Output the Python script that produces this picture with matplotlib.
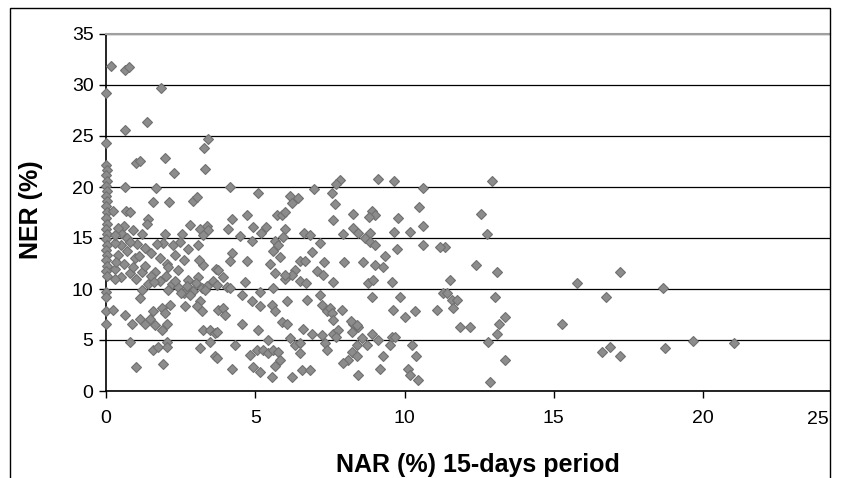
#NER versus NAR scatter (15-days period)
import matplotlib.pyplot as plt
from matplotlib.patches import Rectangle

# NAR (%) values, 15-days period
nar = [0.0, 0.0, 0.0, 0.05, 0.0, 0.05, 0.0, 0.05, 0.0, 0.05, 0.0, 0.05, 0.0, 0.05,
       0.0, 0.05, 0.0, 0.05, 0.0, 0.05, 0.0, 0.05, 0.0, 0.05, 0.0, 0.0, 0.0, 0.0,
       0.17, 0.64, 0.77, 1.83, 0.64, 1.36, 3.43, 3.28, 1.0, 1.14, 1.98, 2.28, 3.32,
       0.64, 1.68, 1.59, 2.12, 2.93, 3.06, 0.67, 0.8, 0.22, 1.42, 1.36, 2.81, 3.15,
       3.37, 3.43, 1.98, 2.54, 3.26, 1.03, 1.92, 2.25, 2.48, 2.76, 3.09, 0.69, 0.97,
       2.03, 2.09, 2.42, 1.64, 3.26, 3.7, 2.76, 3.09,
       0.5, 0.6, 0.5, 0.7, 0.3, 0.4, 0.3, 0.6, 0.5, 0.8, 0.9, 1.0, 1.2, 1.3, 1.5,
       1.4, 1.8, 2.0, 2.2, 2.4, 2.6, 2.7, 2.9, 3.0, 3.2, 3.4, 3.6, 1.1, 1.3, 1.5,
       1.7, 1.2, 0.9, 0.4, 0.8, 1.8, 2.3, 2.6, 3.1, 0.3, 0.3, 0.35,
       1.19, 1.14, 2.09, 0.25, 0.64, 0.86, 1.14, 1.31, 1.47, 1.59, 1.64, 1.87, 1.98,
       2.14, 1.87, 2.03, 2.65, 3.15, 3.04, 3.2, 0.8, 1.59, 1.75, 2.03, 2.03, 1.0,
       1.9, 3.26, 3.48, 3.65, 3.48, 3.15, 3.65, 2.5, 2.8, 3.3, 3.75, 1.6, 2.3,
       3.71, 4.04, 4.15, 4.55, 4.66, 5.16, 5.6, 6.0, 6.5, 6.7, 4.88, 5.16, 5.55,
       5.66, 6.05, 6.72, 7.17, 7.22, 7.39, 7.5, 3.93, 3.99, 4.55, 3.71, 5.1, 5.89,
       6.05, 6.61, 6.89, 7.22, 7.61, 5.44, 6.16, 6.33, 6.5, 7.33, 7.39, 4.32, 4.82,
       3.71, 5.05, 5.27, 5.44, 5.6, 5.77, 5.83, 5.66, 6.5, 4.21, 4.93, 5.16, 5.55,
       6.22, 6.55, 6.83,
       7.61, 8.79, 8.96, 9.57, 8.9, 9.85, 11.3, 7.9, 9.62, 10.0, 10.35, 11.08, 7.56,
       7.61, 8.29, 8.23, 8.45, 7.78, 7.72, 8.57, 8.4, 8.74, 8.9, 9.12, 9.57, 9.68,
       9.51, 8.23, 8.12, 8.4, 7.95, 8.45, 9.29, 9.18, 10.24, 10.4, 10.13, 10.18,
       10.46, 8.2, 8.4,
       11.52, 11.41, 11.58, 11.75, 11.64, 13.03, 13.37, 13.15, 11.86, 12.19, 13.09,
       12.81, 13.37, 12.86,
       15.27, 15.79, 17.22, 16.75, 18.65, 16.6, 16.9, 17.22, 18.73, 19.67, 21.04,
       12.94, 12.56, 12.75, 11.36, 12.39, 13.11,
       7.84, 7.7, 9.12, 9.65, 10.61, 7.56, 7.67, 8.29, 8.9, 9.01, 8.82, 10.5, 9.79,
       7.61, 10.61, 8.26, 8.45, 8.68, 8.84, 7.93, 9.65, 10.18, 8.84, 9.01, 9.74,
       10.61, 11.19, 9.35, 7.97, 8.62, 9.01, 9.29,
       4.15, 5.1, 6.98, 6.16, 6.44, 6.24, 4.21, 4.1, 4.71, 5.72, 5.89, 6.0, 4.93,
       5.35, 6.0, 6.64, 6.83, 7.17, 4.88, 5.66, 5.94, 5.77, 5.6, 4.21, 4.15, 4.71,
       5.83, 5.49, 6.5, 6.67, 6.33, 6.22, 5.66, 7.06, 7.28, 3.76, 3.93, 6.0,
       6.9, 7.3, 5.2, 4.5]

# NER (%) values
ner = [29.2, 24.3, 22.2, 21.7, 21.2, 20.6, 20.1, 19.6, 19.1, 18.6, 18.1, 17.5, 17.0, 16.4,
       15.9, 15.4, 14.9, 14.3, 13.8, 13.3, 12.8, 12.3, 11.8, 11.3, 9.7, 9.2, 7.8, 6.6,
       31.9, 31.5, 31.8, 29.7, 25.6, 26.4, 24.7, 23.8, 22.4, 22.5, 22.8, 21.4, 21.8,
       20.0, 19.9, 18.5, 18.5, 18.6, 19.0, 17.6, 17.5, 17.6, 16.9, 16.4, 16.3, 15.9,
       16.2, 15.8, 15.4, 15.4, 15.3, 14.4, 14.5, 14.3, 14.6, 13.9, 14.3, 13.7, 13.0,
       12.5, 12.2, 11.9, 11.7, 12.4, 12.0, 10.9, 11.2,
       15.5, 16.2, 14.3, 15.0, 14.5, 13.3, 12.0, 12.5, 11.2, 11.6, 12.2, 11.0, 11.7, 12.3, 11.3,
       10.5, 10.8, 11.3, 10.5, 10.2, 9.6, 10.3, 9.8, 10.6, 10.1, 10.3, 10.8, 13.2, 14.0, 13.5,
       14.4, 15.4, 15.8, 16.0, 14.6, 13.0, 13.3, 12.8, 12.8, 11.0, 15.3, 12.6,
       9.9, 9.1, 9.9, 7.9, 7.5, 6.6, 7.1, 6.6, 7.1, 7.8, 6.5, 8.1, 7.6,
       8.4, 6.0, 6.6, 8.3, 8.8, 8.3, 7.8, 4.8, 4.0, 4.3, 4.8, 4.3, 2.4,
       2.6, 6.0, 6.0, 5.7, 4.8, 4.2, 3.4, 9.6, 9.4, 9.9, 7.9, 10.7, 10.8,
       10.4, 10.2, 10.1, 9.4, 10.7, 9.7, 10.1, 11.0, 10.8, 10.6, 8.8, 8.3, 8.4,
       7.8, 8.8, 8.9, 9.4, 8.4, 7.8, 8.1, 8.1, 7.5, 6.6, 5.8, 6.0, 6.8,
       6.6, 6.1, 5.6, 5.5, 5.6, 5.0, 5.2, 4.5, 4.7, 4.7, 4.0, 4.5, 3.5,
       3.2, 4.0, 4.0, 3.7, 4.0, 3.85, 3.0, 2.5, 3.7, 2.2, 2.4, 1.9, 1.4,
       1.4, 2.1, 2.1,
       10.7, 10.6, 10.9, 10.7, 9.2, 9.2, 9.6, 7.9, 7.9, 7.3, 7.8, 7.9, 7.6,
       7.0, 6.6, 5.8, 6.3, 6.0, 5.3, 5.2, 4.5, 4.5, 5.6, 5.0, 5.3, 5.3,
       4.5, 3.85, 3.0, 3.4, 2.7, 1.6, 3.4, 2.2, 4.5, 3.4, 2.2, 1.6,
       1.1, 6.9, 6.5,
       10.9, 9.6, 8.9, 8.9, 8.1, 9.2, 7.3, 6.6, 6.3, 6.3, 5.6,
       4.8, 3.0, 0.9,
       6.6, 10.6, 11.7, 9.2, 10.1, 3.85, 4.3, 3.46, 4.2, 4.9, 4.7,
       20.6, 17.4, 15.4, 14.1, 12.4, 11.7,
       20.7, 20.3, 20.8, 20.6, 19.9, 19.4, 18.3, 17.4, 17.6, 17.3, 17.1, 18.0, 17.0,
       16.8, 16.2, 16.0, 15.5, 15.0, 15.5, 15.4, 15.6, 15.6, 14.6, 14.3, 13.9,
       14.3, 14.1, 13.2, 12.6, 12.6, 12.4, 12.2,
       20.0, 19.4, 19.8, 19.1, 18.9, 18.4, 16.9, 15.9, 17.3, 17.3, 17.3, 17.5, 16.1,
       16.1, 15.9, 15.5, 15.3, 14.5, 14.7, 14.7, 15.1, 14.3, 13.7, 13.5, 12.7, 12.7,
       13.1, 12.5, 12.7, 12.7, 11.9, 11.4, 11.6, 11.8, 11.4, 11.9, 11.2, 11.4,
       13.6, 12.6, 15.5, 15.2]

x_ticks = [0, 5, 10, 15, 20]
y_ticks = [0, 5, 10, 15, 20, 25, 30, 35]

W, H = 867, 478
fig = plt.figure(figsize=(W / 100, H / 100), dpi=100)
ax = fig.add_axes([106 / W, 87 / H, 724 / W, 357 / H])

ax.plot(nar, ner, 'D', ms=5.5, mfc='#8c8c8c', mec='#707070', mew=0.8, clip_on=False, zorder=3)

ax.set_xlim(0, 724 / 29.85)
ax.set_ylim(0, 35)
ax.set_xticks(x_ticks)
ax.set_yticks(y_ticks)
ax.yaxis.grid(True, color='black', linewidth=0.9)
ax.set_axisbelow(True)

ax.tick_params(direction='out', length=5, width=1, color='black',
               labelsize=14, pad=9)
ax.tick_params(axis='y', pad=4)
for lab in ax.get_xticklabels() + ax.get_yticklabels():
    lab.set_family('Liberation Sans')

ax.spines['right'].set_visible(False)
ax.spines['top'].set_color('#a0a0a0')
ax.spines['top'].set_linewidth(1.5)
ax.spines['left'].set_linewidth(1.2)
ax.spines['bottom'].set_linewidth(1.2)

# last tick label sits inside the chart frame
fig.text(829 / W, 1 - 419 / H, '25', ha='right', va='center', fontsize=14,
         family='Liberation Sans')

fig.text(478 / W, 1 - 465 / H, 'NAR (%) 15-days period', ha='center', va='center',
         fontsize=18, fontweight='bold', family='Liberation Sans')
fig.text(31 / W, 1 - 210 / H, 'NER (%)', ha='center', va='center', rotation=90,
         fontsize=18, fontweight='bold', family='Liberation Sans')

# chart frame
fig.add_artist(Rectangle((10 / W, -0.05), 820 / W, 1.05 - 8 / H, transform=fig.transFigure,
                         fill=False, edgecolor='black', linewidth=1))

fig.savefig('out.png', dpi=100)
